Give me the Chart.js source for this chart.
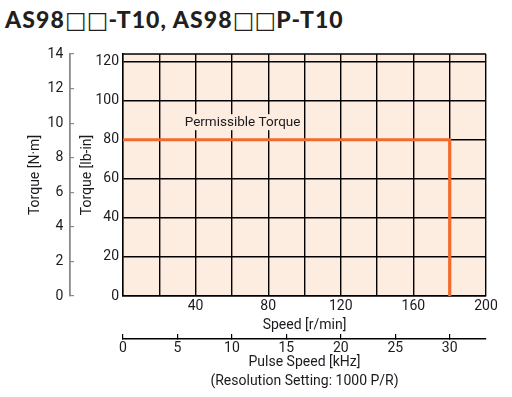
<!DOCTYPE html>
<html>
<head>
<meta charset="utf-8">
<script src="https://cdn.jsdelivr.net/npm/chart.js@4/dist/chart.umd.min.js"></script>
<style>
body{margin:0;background:#fff}
#wrap{position:relative;width:512px;height:397px}
#title{position:absolute;left:5px;top:5px;font:900 23px Lato,'Open Sans',sans-serif;color:#231f20;white-space:nowrap;letter-spacing:1.1px}
#title .box{font-family:'DejaVu Sans';font-weight:normal;color:#231f20;letter-spacing:0}
canvas{position:absolute;left:0;top:0}
</style>
</head>
<body>
<div id="wrap">
<div id="title">AS98<span class="box">□□</span>-T10, AS98<span class="box">□□</span>P-T10</div>
<canvas id="c" width="512" height="397"></canvas>
</div>
<script>
// data
const speed=[0,180,180]            // r/min
const torqueLbIn=[80,80,0]         // lb-in
const nmMax=14                     // N·m axis top
const lbPerNm=8.8507
const speedMax=200
const pulsePerSpeed=30/180         // kHz per r/min (30 kHz = 180 r/min)
const speedLabels=[40,80,120,160,200]
const lbInLabels=[0,20,40,60,80,100,120]
const pulseLabels=[0,5,10,15,20,25,30]
const curveLabel='Permissible Torque'
const curveLabelAt=[34,89]

const ink='#1c1a1f'
const fnt='Roboto,"Liberation Sans",sans-serif'
const tickFont={family:fnt,size:14,lineHeight:1.2}
const titleFont={family:fnt,size:14,lineHeight:1.2}

const bgPlugin={
  id:'bg',
  beforeDraw(chart){
    const a=chart.chartArea,ctx=chart.ctx
    ctx.save();ctx.fillStyle='#fdece0'
    ctx.fillRect(a.left,a.top,a.right-a.left,a.bottom-a.top)
    ctx.restore()
  },
  afterDatasetsDraw(chart){
    const a=chart.chartArea,ctx=chart.ctx
    // top frame edge
    ctx.save()
    ctx.strokeStyle='#000';ctx.lineWidth=1.4
    ctx.beginPath();ctx.moveTo(a.left,a.top);ctx.lineTo(a.right,a.top);ctx.stroke()
    const x=chart.scales.x.getPixelForValue(curveLabelAt[0])
    const y=chart.scales.y.getPixelForValue(curveLabelAt[1])
    ctx.font='13.5px '+fnt
    const w=ctx.measureText(curveLabel).width
    ctx.fillStyle='#fdece0'
    ctx.fillRect(x-2,y-8,w+4,16)
    ctx.fillStyle=ink;ctx.textAlign='left';ctx.textBaseline='middle'
    ctx.fillText(curveLabel,x,y)
    ctx.restore()
  }
}

function fixW(w){return s=>{s.width=w}}
function fixH(h){return s=>{s.height=h}}

new Chart(document.getElementById('c'),{
  type:'scatter',
  data:{datasets:[{
    data:speed.map((s,i)=>({x:s,y:torqueLbIn[i]})),
    showLine:true,borderColor:'#f26a2e',borderWidth:3.2,pointRadius:0,
    borderCapStyle:'butt',borderJoinStyle:'miter'
  }]},
  options:{
    responsive:false,animation:false,
    layout:{padding:{top:54,right:26,left:0,bottom:0}},
    plugins:{legend:{display:false},tooltip:{enabled:false}},
    scales:{
      x:{type:'linear',position:'bottom',weight:0,min:0,max:speedMax,
        grid:{color:'#000',lineWidth:1.4,drawTicks:false},
        border:{color:'#000',width:1.4},
        ticks:{stepSize:20,autoSkip:false,maxRotation:0,padding:1.6,color:ink,font:tickFont,
          callback:v=>speedLabels.includes(v)?String(v):''},
        title:{display:true,text:'Speed [r/min]',color:ink,font:titleFont,padding:{top:0,bottom:5.6}},
        afterFit:fixH(43)},
      pulse:{type:'linear',position:'bottom',weight:1,min:0,max:speedMax*pulsePerSpeed,
        grid:{drawOnChartArea:false,color:'#000',lineWidth:1.2,tickLength:-5},
        border:{color:'#000',width:1.4},
        ticks:{stepSize:5,includeBounds:false,autoSkip:false,maxRotation:0,padding:5.6,color:ink,font:tickFont,
          callback:v=>pulseLabels.includes(v)?String(v):''},
        title:{display:true,text:['Pulse Speed [kHz]','(Resolution Setting: 1000 P/R)'],color:ink,
          font:{family:fnt,size:14,lineHeight:1.32},padding:{top:0,bottom:6.75}},
        afterFit:fixH(58)},
      y:{type:'linear',position:'left',weight:0,min:0,max:nmMax*lbPerNm,
        grid:{color:'#000',lineWidth:1.4,drawTicks:false},
        border:{color:'#000',width:1.4},
        ticks:{stepSize:20,includeBounds:false,autoSkip:false,padding:4,color:ink,font:tickFont,
          callback:v=>lbInLabels.includes(v)?String(v):''},
        title:{display:true,text:'Torque [lb-in]',color:ink,font:titleFont,padding:{top:8.9,bottom:0}},
        afterFit:fixW(53)},
      nm:{type:'linear',position:'left',weight:1,min:0,max:nmMax,
        grid:{drawOnChartArea:false,color:'#8a8a8a',lineWidth:1.2,tickLength:-4},
        border:{color:'#8a8a8a',width:1.8},
        ticks:{stepSize:2,autoSkip:false,padding:10.7,color:ink,font:tickFont},
        title:{display:true,text:'Torque [N·m]',color:ink,font:titleFont,padding:{top:27.3,bottom:0}},
        afterFit:fixW(70)}
    }
  },
  plugins:[bgPlugin]
})
</script>
</body>
</html>
